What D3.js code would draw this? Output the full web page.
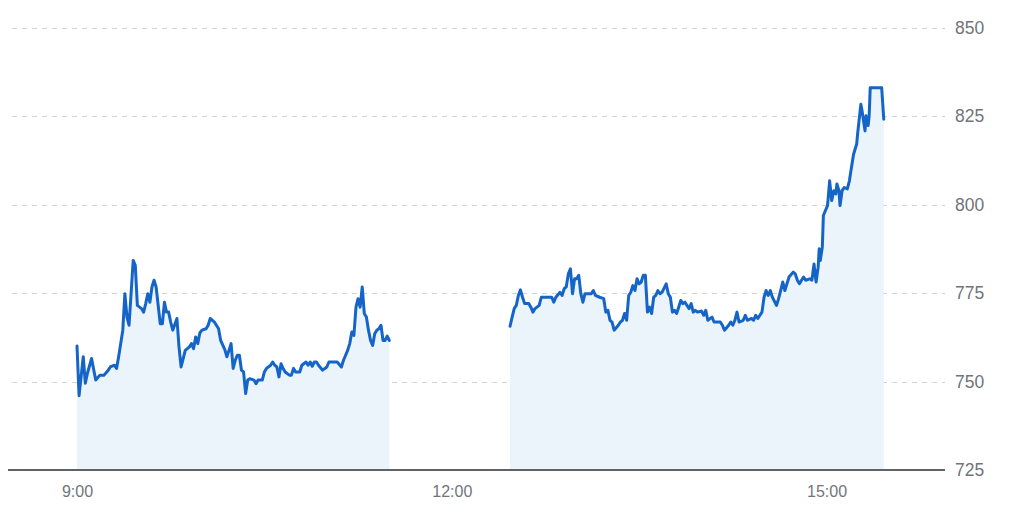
<!DOCTYPE html>
<html>
<head>
<meta charset="utf-8">
<script src="https://cdn.jsdelivr.net/npm/d3@7"></script>
<style>
  html, body { margin: 0; padding: 0; background: #fff; }
  svg { display: block; }
</style>
</head>
<body>
<svg id="chart" width="1024" height="516"></svg>
<script>
// ---------- data ----------
const yTicks = [725, 750, 775, 800, 825, 850];
const xTickLabels = ["9:00", "12:00", "15:00"];

const morningTimes = ["9:00","9:01","9:03","9:04","9:05","9:07","9:09","9:11","9:13","9:15","9:16","9:18","9:19","9:20","9:22","9:23","9:24","9:25","9:27","9:28","9:29","9:31","9:32","9:33","9:34","9:35","9:36","9:37","9:38","9:40","9:41","9:42","9:43","9:44","9:45","9:46","9:48","9:49","9:50","9:52","9:54","9:55","9:56","9:57","9:58","9:59","10:00","10:02","10:03","10:04","10:06","10:08","10:09","10:11","10:12","10:13","10:14","10:15","10:16","10:17","10:18","10:19","10:20","10:21","10:22","10:23","10:25","10:26","10:27","10:29","10:30","10:31","10:33","10:34","10:35","10:36","10:37","10:38","10:39","10:40","10:42","10:43","10:44","10:45","10:47","10:48","10:50","10:51","10:52","10:53","10:54","10:55","10:56","10:58","11:00","11:01","11:05","11:07","11:08","11:10","11:11","11:12","11:13","11:14","11:15","11:16","11:17","11:18","11:19","11:20","11:21","11:22","11:23","11:24","11:25","11:26","11:27","11:28","11:29","11:30"];
const morningPrices = [760,746,757,749.5,752.3,756.5,750.4,751.8,751.8,753.2,754.1,754.6,753.7,757,764.5,774.8,768.2,765.9,784.2,782.8,771.5,770.6,769.6,772,774.8,772.4,776.7,778.6,776.7,766.3,766.3,772.4,769.6,769.6,766.8,764.5,767.8,759.8,754.1,758.8,759.8,760.7,759.3,762.6,760.7,763.7,764.5,764.9,765.9,767.8,766.8,764.9,761.6,759,757,758.8,760.7,753.7,756,757.4,757.4,753.2,752.7,746.6,750.4,750.8,750.4,749.4,750.4,750.4,752.7,753.7,754.6,755.5,754.6,754.1,751.3,755,753.7,752.7,751.8,751.8,753.7,752.7,752.7,754.6,755.5,754.6,755.5,754.3,755.5,755.5,754.6,753.2,754.1,755.5,755.5,754.1,756,758.8,760.7,764,763,771,773.4,771,776.7,769.2,768.2,764.5,761.6,760.2,763.5,764.5,764.9,765.9,761.6,761.6,762.8,761.6];

const afternoonTimes = ["12:28","12:29","12:30","12:31","12:32","12:33","12:34","12:35","12:37","12:38","12:39","12:40","12:42","12:43","12:45","12:48","12:49","12:50","12:52","12:53","12:54","12:55","12:56","12:57","12:58","12:59","13:00","13:01","13:02","13:03","13:04","13:06","13:07","13:08","13:09","13:11","13:13","13:14","13:15","13:16","13:17","13:18","13:20","13:21","13:22","13:23","13:24","13:25","13:26","13:27","13:28","13:29","13:30","13:31","13:32","13:33","13:34","13:35","13:36","13:37","13:38","13:39","13:40","13:41","13:43","13:44","13:45","13:46","13:47","13:48","13:49","13:50","13:51","13:52","13:54","13:55","13:56","13:57","13:58","14:00","14:01","14:02","14:03","14:05","14:06","14:09","14:10","14:11","14:13","14:14","14:15","14:16","14:17","14:18","14:20","14:21","14:22","14:24","14:25","14:26","14:27","14:29","14:30","14:31","14:32","14:33","14:34","14:36","14:37","14:39","14:40","14:41","14:42","14:44","14:45","14:46","14:47","14:48","14:49","14:50","14:52","14:53","14:54","14:55","14:56","14:56:30","14:57","14:58","14:58:30","14:59:30","15:00:30","15:01:30","15:02:30","15:03:30","15:04:30","15:05","15:06","15:06:30","15:07:30","15:08:30","15:10","15:11","15:12","15:13","15:14:30","15:15","15:16:30","15:17","15:18:30","15:19","15:20","15:20:30","15:21","15:26:30","15:27:30"];
const afternoonPrices = [765.6,768.2,770.6,771.5,774.3,775.9,773.8,772,772,771,769.6,770.6,771.5,773.8,773.8,773.8,772.4,773.8,775.2,774.3,776.2,776.7,780.4,781.8,774.8,779,779,780,774.8,772.4,774.8,774.8,774.8,775.7,774.3,773.8,773.4,769.6,770.1,767.3,766.8,764.5,765.9,766.8,767.3,769.2,767.3,774.3,775.2,777.1,775.7,779,777.6,778.1,780,780,769.6,771,769.2,773.8,774.3,775.7,774.8,775.2,777.6,774.8,773.8,769.6,770.1,769.2,771,772.9,772,772.4,770.6,772,769.6,770.1,769.6,769.9,768.7,770.1,767.3,768.2,766.8,766.8,765.9,764.5,765.9,766.8,765.9,767.3,769.6,766.8,767.3,768.7,767.3,767.8,767.3,768.7,767.8,769.6,773.8,775.7,774.3,775.7,773.8,771.5,773.4,778.1,775.7,777.6,779.5,780.9,780.4,778.6,777.6,778.6,779.5,778.6,779,778.6,783.2,778.1,782.3,787.5,784.2,788,796.9,798.3,799.7,806.7,801.1,803.9,803,805.8,803.9,799.7,803.9,804.8,804.4,806.7,810.5,814.2,817.1,820.3,828.3,826.8,820.8,825.1,822.3,825.1,833,833,824.1];

// ---------- setup ----------
const parseHM = d3.timeParse("%H:%M");
const parseHMS = d3.timeParse("%H:%M:%S");
const parseT = s => parseHMS(s) || parseHM(s);

const sessions = [
  morningTimes.map((t, i) => ({ t: parseT(t), v: morningPrices[i] })),
  afternoonTimes.map((t, i) => ({ t: parseT(t), v: afternoonPrices[i] }))
];

const svg = d3.select("#chart");
const FONT = "Arial, 'Liberation Sans', sans-serif";

const x = d3.scaleTime()
  .domain([parseT("9:00"), parseT("15:00")])
  .range([77, 826.5]);
const y = d3.scaleLinear()
  .domain([725, 850])
  .range([470, 27.5]);

const gridLeft = 12, gridRight = 945;

// gridlines (dashed)
svg.append("g")
  .selectAll("line")
  .data(yTicks.filter(d => d !== 725))
  .join("line")
  .attr("x1", gridLeft).attr("x2", gridRight)
  .attr("y1", d => Math.round(y(d)) + 0.5)
  .attr("y2", d => Math.round(y(d)) + 0.5)
  .attr("stroke", "#d3d3d3")
  .attr("stroke-width", 1)
  .attr("stroke-dasharray", "5,5");

// area fills
const area = d3.area()
  .x(d => x(d.t))
  .y0(y(725))
  .y1(d => y(d.v));
svg.append("g")
  .selectAll("path")
  .data(sessions)
  .join("path")
  .attr("d", area)
  .attr("fill", "#ebf3fb");

// lines
const line = d3.line()
  .x(d => x(d.t))
  .y(d => y(d.v));
svg.append("g")
  .selectAll("path")
  .data(sessions)
  .join("path")
  .attr("d", line)
  .attr("fill", "none")
  .attr("stroke", "#1565c8")
  .attr("stroke-width", 3)
  .attr("stroke-linejoin", "round")
  .attr("stroke-linecap", "round");

// baseline
svg.append("line")
  .attr("x1", 8).attr("x2", gridRight)
  .attr("y1", y(725)).attr("y2", y(725))
  .attr("stroke", "#5f6368")
  .attr("stroke-width", 2);

// y axis labels (right)
const yAxis = d3.axisRight(y)
  .tickValues(yTicks)
  .tickSize(0)
  .tickPadding(0)
  .tickFormat(d3.format("d"));
const gy = svg.append("g")
  .attr("transform", `translate(955,0)`)
  .call(yAxis);
gy.select(".domain").remove();
gy.selectAll("text")
  .attr("font-family", FONT)
  .attr("font-size", 17.5)
  .attr("fill", "#70757a");

// x axis labels
const xAxis = d3.axisBottom(x)
  .tickValues(xTickLabels.map(parseT))
  .tickSize(0)
  .tickPadding(0)
  .tickFormat(d3.timeFormat("%-H:%M"));
const gx = svg.append("g")
  .attr("transform", `translate(0,486)`)
  .call(xAxis);
gx.select(".domain").remove();
gx.selectAll("text")
  .attr("font-family", FONT)
  .attr("font-size", 16)
  .attr("fill", "#70757a");
</script>
</body>
</html>
